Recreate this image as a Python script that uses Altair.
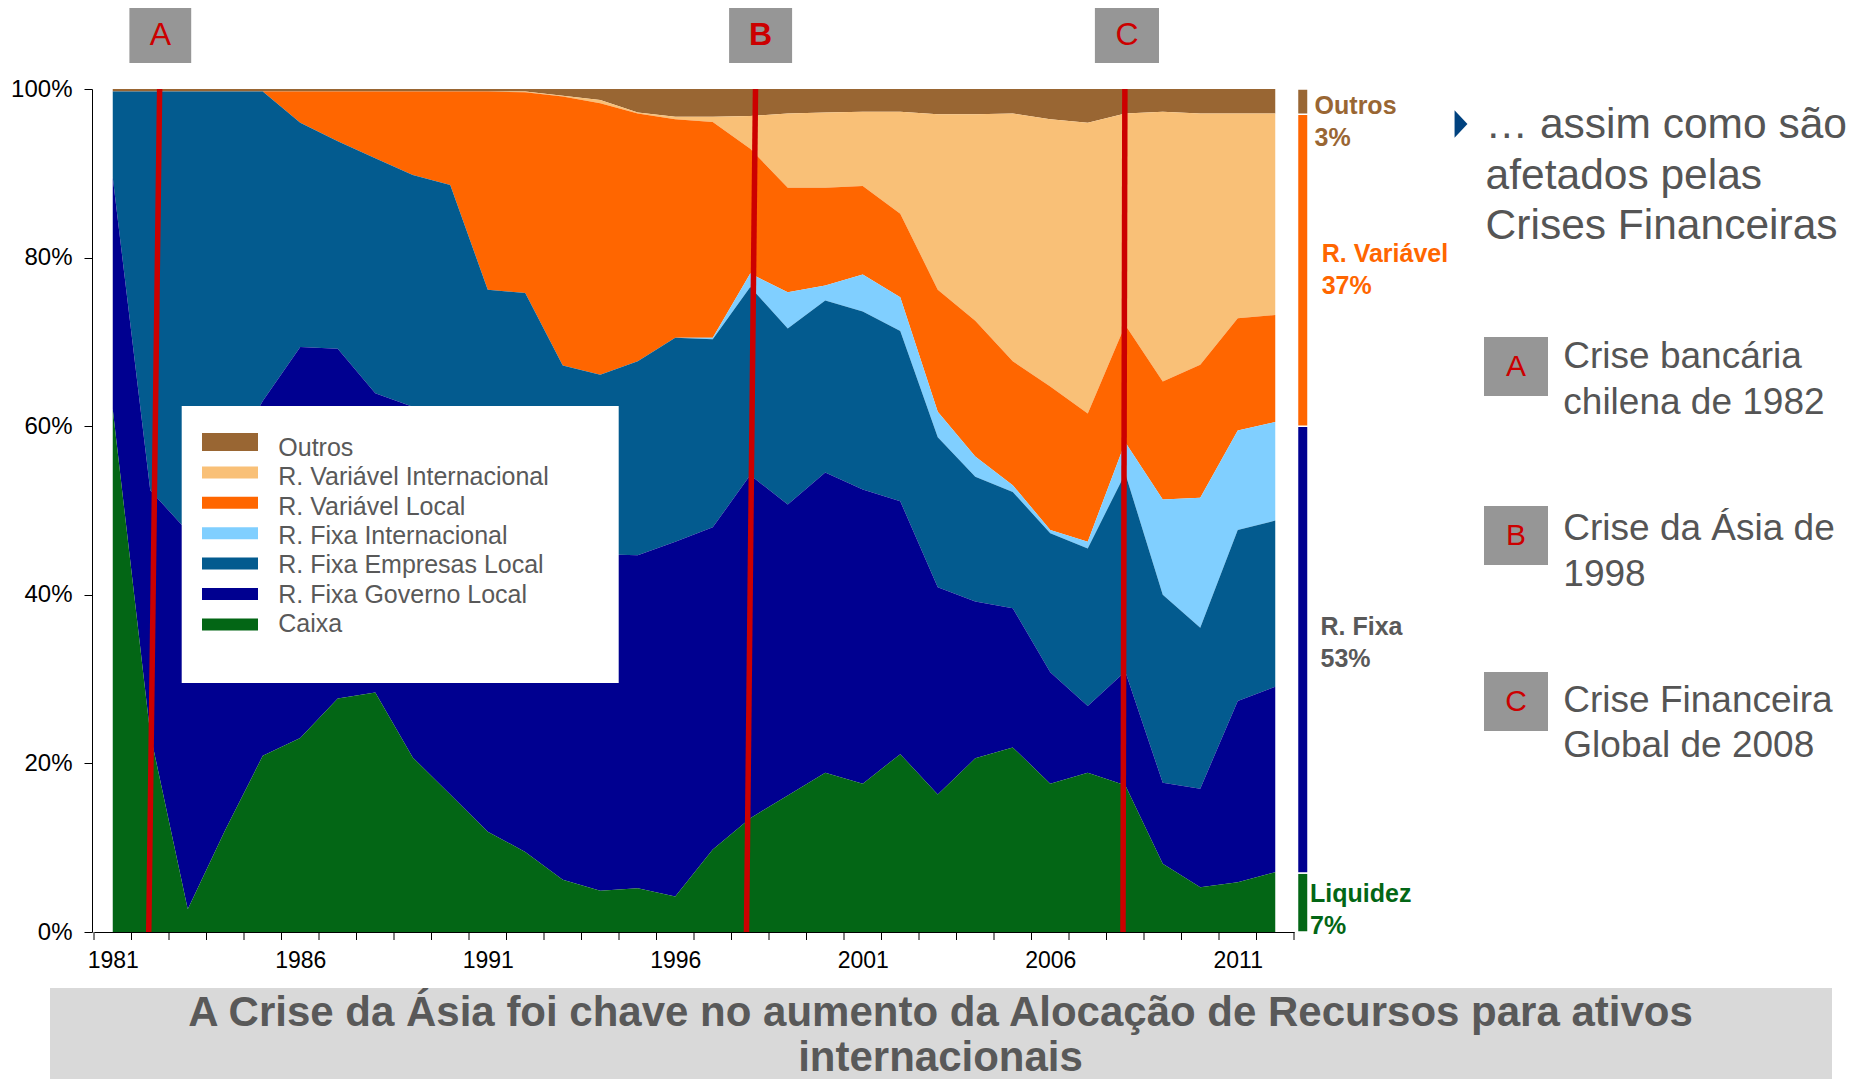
import altair as alt
import pandas as pd

FONT = "Liberation Sans, Arial, sans-serif"

# ---------------- data ----------------
years = list(range(1981, 2013))
label_years = [1981, 1986, 1991, 1996, 2001, 2006, 2011]
series_names = ["Outros", "R. Variável Internacional", "R. Variável Local",
                "R. Fixa Internacional", "R. Fixa Empresas Local",
                "R. Fixa Governo Local", "Caixa"]
series_colors = ["#996633", "#F9C077", "#FF6600", "#80CFFF", "#035B8F", "#000090", "#036615"]

caixa = [62.0, 23.5, 2.7, 12.1, 20.9, 23.0, 27.7, 28.4, 20.7, 16.3, 11.9, 9.5, 6.2, 4.9, 5.2, 4.2,
         9.8, 13.5, 16.2, 18.9, 17.6, 21.1, 16.3, 20.6, 21.9, 17.6, 18.9, 17.4, 8.1, 5.3, 5.9, 7.1]
gov_local = [27.5, 28.9, 44.8, 42.9, 42.1, 46.4, 41.5, 35.5, 41.6, 43.7, 44.1, 42.5, 41.3, 39.9, 39.5, 42.1,
             38.2, 40.7, 34.5, 35.6, 34.9, 30.0, 24.6, 18.6, 16.5, 13.2, 7.9, 13.5, 9.6, 11.7, 21.5, 22.0]
emp_local = [10.2, 47.3, 52.2, 44.7, 36.7, 26.6, 24.6, 27.9, 27.5, 28.6, 20.2, 23.8, 19.7, 21.3, 23.0, 24.2,
             22.3, 22.3, 20.9, 20.4, 21.1, 20.2, 17.8, 14.8, 13.8, 16.5, 18.7, 23.5, 22.3, 19.1, 20.3, 19.7]
fixa_int = [0.0, 0.0, 0.0, 0.0, 0.0, 0.0, 0.0, 0.0, 0.0, 0.0, 0.0, 0.0, 0.0, 0.0, 0.0, 0.0,
            0.2, 1.6, 4.3, 1.8, 4.4, 4.0, 3.0, 2.4, 0.8, 0.4, 0.8, 3.7, 11.3, 15.4, 11.8, 11.7]
var_local = [0.0, 0.0, 0.0, 0.0, 0.0, 3.7, 5.9, 7.9, 9.9, 11.1, 23.5, 23.8, 31.9, 32.2, 29.4, 25.9,
             25.6, 14.8, 12.4, 11.6, 10.5, 9.9, 14.5, 16.1, 14.7, 17.0, 15.2, 13.9, 14.0, 15.8, 13.3, 12.7]
var_int = [0.0, 0.0, 0.0, 0.0, 0.0, 0.0, 0.0, 0.0, 0.0, 0.0, 0.0, 0.1, 0.1, 0.4, 0.1, 0.3,
           0.6, 3.9, 8.8, 8.9, 8.8, 12.1, 20.8, 24.5, 29.4, 31.7, 34.5, 25.1, 32.0, 29.8, 24.3, 23.9]
outros = [0.3, 0.3, 0.3, 0.3, 0.3, 0.3, 0.3, 0.3, 0.3, 0.3, 0.3, 0.3, 0.8, 1.3, 2.8, 3.3,
          3.3, 3.2, 2.9, 2.8, 2.7, 2.7, 3.0, 3.0, 2.9, 3.6, 4.0, 2.9, 2.7, 2.9, 2.9, 2.9]

series_values = [outros, var_int, var_local, fixa_int, emp_local, gov_local, caixa]

crisis_letters = ["A", "B", "C"]
crisis_x_top = [1982.25, 1998.14, 2007.99]
crisis_x_bottom = [1981.96, 1997.90, 2007.94]
crisis_desc = [["Crise bancária", "chilena de 1982"],
               ["Crise da Ásia de", "1998"],
               ["Crise Financeira", "Global de 2008"]]

bar_labels = ["Liquidez", "R. Fixa", "R. Variável", "Outros"]
bar_pct = [7, 53, 37, 3]
bar_colors = ["#036615", "#000090", "#FF6600", "#996633"]
bar_text_colors = ["#036615", "#595959", "#FF6600", "#996633"]

side_text = ["… assim como são", "afetados pelas", "Crises Financeiras"]
title_lines = ["A Crise da Ásia foi chave no aumento da Alocação de Recursos para ativos",
               "internacionais"]

# ---------------- tables ----------------
rows = []
n = len(series_names)
for i, (name, vals) in enumerate(zip(series_names, series_values)):
    for yr, v in zip(years, vals):
        rows.append({"year": yr, "series": name, "value": v, "ord": n - 1 - i})
df = pd.DataFrame(rows)

crisis_df = pd.DataFrame({"top": crisis_x_top, "bot": crisis_x_bottom})

bar_rows = []
acc = 0
for lab, p, c in zip(bar_labels, bar_pct, bar_colors):
    bar_rows.append({"label": lab, "y0": acc, "y1": acc + p, "col": c})
    acc += p
bar_df = pd.DataFrame(bar_rows)

edge_df = pd.DataFrame({"edge": [y - 0.5 for y in years] + [years[-1] + 0.5]})
one = pd.DataFrame({"k": [0]})

# ---------------- scales & axes (identical in every layer so they merge) ----------------
x_scale = alt.Scale(domain=[1980.5, 2012.5], nice=False, zero=False)
y_scale = alt.Scale(domain=[0, 100], nice=False)
x_axis = alt.Axis(values=label_years, format="d", tickOpacity=0, tickSize=8,
                  domainColor="#000000", labelColor="#000000",
                  labelFontSize=23, labelFont=FONT, labelPadding=9, grid=False, title=None,
                  labelOverlap=False, labelFlush=False)
y_axis = alt.Axis(values=[0, 20, 40, 60, 80, 100], labelExpr="datum.value + '%'",
                  tickSize=8, tickColor="#000000", domainColor="#000000", labelColor="#000000",
                  labelFontSize=24, labelFont=FONT, labelPadding=12, offset=2, grid=False, title=None)

areas = alt.Chart(df).mark_area(interpolate="linear").encode(
    x=alt.X("year:Q", scale=x_scale, axis=x_axis),
    y=alt.Y("value:Q", stack="zero", scale=y_scale, axis=y_axis),
    color=alt.Color("series:N", scale=alt.Scale(domain=series_names, range=series_colors), legend=None),
    order=alt.Order("ord:Q", sort="ascending"),
)

# year-boundary ticks on the x axis
edge_ticks = alt.Chart(edge_df).mark_rule(color="#000000", strokeWidth=1).encode(
    x=alt.X("edge:Q", scale=x_scale, axis=x_axis), y=alt.value(843), y2=alt.value(851))


def rect(x1, x2, y1, y2, color):
    return alt.Chart(one).mark_rect(color=color).encode(
        x=alt.value(x1), x2=alt.value(x2), y=alt.value(y1), y2=alt.value(y2))


def text(t, x, y, size, color, weight="normal", align="left", baseline="alphabetic", lh=None):
    kw = dict(fontSize=size, color=color, fontWeight=weight, align=align, baseline=baseline, font=FONT)
    if lh is not None:
        kw["lineHeight"] = lh
    return alt.Chart(one).mark_text(**kw).encode(x=alt.value(x), y=alt.value(y), text=alt.value(t))


layers = [areas, edge_ticks]

# legend box
layers.append(rect(87.7, 524.7, 317, 594, "white"))
for i, c in enumerate(series_colors):
    cy = 353 + i * 30.4
    h = 18 if i == 0 else 12
    layers.append(rect(108, 164, cy - h / 2, cy + h / 2, c))
layers.append(text(series_names, 184.3, 367, 25, "#595959", lh=29.3))

# crisis lines
layers.append(alt.Chart(crisis_df).mark_rule(color="#CC0000", strokeWidth=5.5).encode(
    x=alt.X("top:Q", scale=x_scale, axis=x_axis), x2="bot:Q",
    y=alt.Y(datum=100, scale=y_scale, axis=y_axis), y2=alt.Y2(datum=0)))

# top letter boxes
top_box_x = [(35.4, 97.2), (635.1, 698.1), (1000.9, 1065.0)]
for (x1, x2), letter in zip(top_box_x, crisis_letters):
    layers.append(rect(x1, x2, -83, -26, "#969696"))
    layers.append(text(letter, (x1 + x2) / 2, -54, 32, "#CC0000",
                       weight="bold" if letter == "B" else "normal", align="center", baseline="middle"))

# right stacked bar (2012 composition)
layers.append(alt.Chart(bar_df).mark_rect(stroke="white", strokeWidth=1.5).encode(
    x=alt.value(1203.5), x2=alt.value(1214),
    y=alt.Y("y0:Q", scale=y_scale, axis=y_axis), y2="y1:Q",
    fill=alt.Fill("col:N", scale=None)))
bar_label_pos = [(1216, 813.3), (1226.5, 546.3), (1227.7, 173.3), (1220.6, 25)]
for lab, p, col, (bx, by) in zip(bar_labels, bar_pct, bar_text_colors, bar_label_pos):
    layers.append(text([lab, f"{p}%"], bx, by, 25, col, weight="bold", lh=31.7))

# right-hand commentary
layers.append(alt.Chart(one).mark_point(shape="M-0.47,-1L0.47,0L-0.47,1Z", filled=True, size=750,
                                        color="#00427F", opacity=1).encode(
    x=alt.value(1367), y=alt.value(35)))
layers.append(text(side_text, 1391.6, 49, 42.5, "#555555", lh=50.5))
box_y = [(248, 307), (417, 476), (583, 642)]
desc_base = [279.3, 451, 622.7]
for letter, (y1, y2), desc, yb in zip(crisis_letters, box_y, crisis_desc, desc_base):
    layers.append(rect(1390, 1454, y1, y2, "#969696"))
    layers.append(text(letter, 1422, (y1 + y2) / 2, 30, "#CC0000", align="center", baseline="middle"))
    layers.append(text(desc, 1469.3, yb, 37, "#555555", lh=45.6))

# bottom title bar
layers.append(rect(-44, 1738, 899, 995, "#D9D9D9"))
layers.append(text(title_lines, 846.5, 937, 42, "#595959", weight="bold", align="center", lh=45))

chart = alt.layer(*layers).properties(
    width=1200, height=843,
    padding={"left": 86, "top": 81, "right": 560, "bottom": 147},
    autosize=alt.AutoSizeParams(type="none"),
    background="white",
).configure_view(stroke=None)

chart.save("out.html", embed_options={"renderer": "svg", "actions": False})
